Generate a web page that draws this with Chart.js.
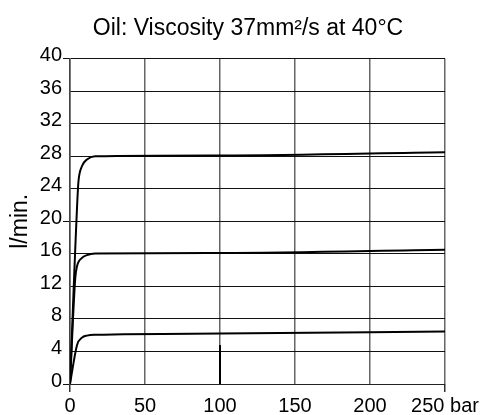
<!DOCTYPE html>
<html>
<head>
<meta charset="utf-8">
<script src="https://cdn.jsdelivr.net/npm/chart.js@4"></script>
<style>
  html, body { margin: 0; padding: 0; background: #fff; }
  #wrap { width: 490px; height: 415px; }
</style>
</head>
<body>
<div id="wrap"><canvas id="grafico"></canvas></div>
<script>
// pressure (bar) and flow (l/min)
const presion28 = [0, 5.3, 5.8, 8, 11.3, 16.7, 100, 250];
const caudal28  = [0, 24, 25.2, 26.8, 27.6, 28, 28.1, 28.5];
const presion16 = [0, 3.5, 4.7, 8, 11.3, 16.7, 100, 250];
const caudal16  = [0, 13, 14.5, 15.5, 15.85, 16.05, 16.1, 16.5];
const presion6  = [0, 4.7, 8, 11.3, 16.7, 100, 250];
const caudal6   = [0, 4.8, 5.7, 5.95, 6.05, 6.2, 6.45];
const marcaX = [100, 100];
const marcaY = [0, 4.8];
const ticksY = [0, 4, 8, 12, 16, 20, 24, 28, 32, 36, 40];
const ticksX = [0, 50, 100, 150, 200, 250];
const ticksConMarcaY = [0, 20, 40];
const ticksConMarcaX = [0, 250];

function puntos(xs, ys) {
  return xs.map((x, i) => ({ x: x, y: ys[i] }));
}

function curva(xs, ys) {
  return {
    data: puntos(xs, ys),
    borderColor: '#000',
    borderWidth: 2,
    pointRadius: 0,
    cubicInterpolationMode: 'monotone',
    fill: false
  };
}

const fuente = "'Liberation Sans', Arial, sans-serif";

new Chart(document.getElementById('grafico'), {
  type: 'line',
  data: {
    datasets: [
      curva(presion28, caudal28),
      curva(presion16, caudal16),
      curva(presion6, caudal6),
      {
        data: puntos(marcaX, marcaY),
        borderColor: '#000',
        borderWidth: 2,
        pointRadius: 0,
        tension: 0
      }
    ]
  },
  options: {
    responsive: true,
    maintainAspectRatio: false,
    animation: false,
    layout: { padding: { left: 6, right: 0, top: 0, bottom: 0 } },
    plugins: {
      legend: { display: false },
      tooltip: { enabled: false },
      title: {
        display: true,
        text: 'Oil: Viscosity 37mm\u00B2/s at 40\u00B0C',
        color: '#000',
        font: { family: fuente, size: 23, weight: 'normal' },
        padding: { top: 15, bottom: 16 }
      }
    },
    scales: {
      x: {
        type: 'linear',
        min: 0,
        max: 250,
        afterBuildTicks: s => { s.ticks = ticksX.map(v => ({ value: v })); },
        afterFit: s => { s.height = 31; s.paddingRight = 45; },
        ticks: {
          color: '#000',
          font: { family: fuente, size: 20 },
          padding: 2,
          maxRotation: 0,
          callback: v => v === 250 ? '250 bar' : String(v)
        },
        grid: {
          color: '#666',
          lineWidth: 1.5,
          tickLength: 8,
          tickColor: c => ticksConMarcaX.includes(c.tick && c.tick.value) ? '#333' : 'rgba(0,0,0,0)'
        },
        border: { color: '#222', width: 1 }
      },
      y: {
        min: 0,
        max: 40,
        afterBuildTicks: s => { s.ticks = ticksY.map(v => ({ value: v })); },
        afterFit: s => { s.width = 64; },
        title: {
          display: true,
          text: 'l/min.',
          color: '#000',
          font: { family: fuente, size: 23, lineHeight: 1 },
          padding: { top: 3, bottom: 0 }
        },
        ticks: {
          color: '#000',
          font: { family: fuente, size: 20 },
          padding: 1,
          labelOffset: -3
        },
        grid: {
          color: '#111',
          lineWidth: 1,
          tickLength: 7,
          tickColor: c => ticksConMarcaY.includes(c.tick && c.tick.value) ? '#111' : 'rgba(0,0,0,0)'
        },
        border: { color: '#444', width: 1.5 }
      }
    }
  }
});
</script>
</body>
</html>
